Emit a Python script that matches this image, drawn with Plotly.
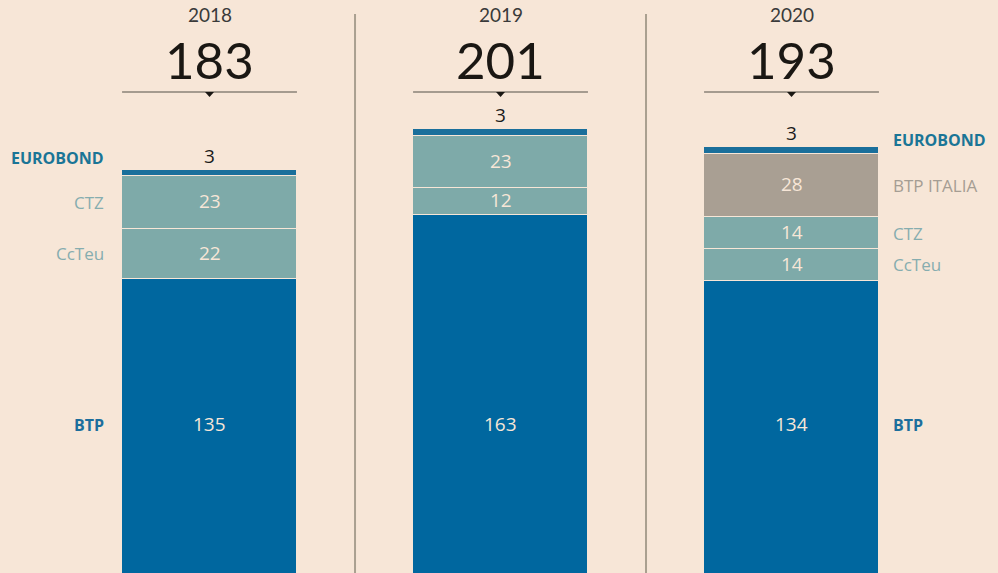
import plotly.graph_objects as go

years = ["2018", "2019", "2020"]
btp = [135, 163, 134]
ccteu = [22, 12, 14]
ctz = [23, 23, 14]
btp_italia = [0, 0, 28]
eurobond = [3, 3, 3]

series_names = ["BTP", "CcTeu", "CTZ", "BTP ITALIA", "EUROBOND"]
series_vals = [btp, ccteu, ctz, btp_italia, eurobond]
series_colors = ["#00679f", "#7eaaa9", "#7eaaa9", "#a99f93", "#1a6f9b"]

BG = "#f7e6d7"
W, H = 998, 573
X = [0, 1, 2]
BAR_W = 0.601
Y_RANGE = [5.29, 257.7]
BTP_LABEL_Y = 70.5

fig = go.Figure()
for name, vals, col in zip(series_names, series_vals, series_colors):
    fig.add_trace(go.Bar(
        x=X, y=vals, name=name, width=BAR_W,
        marker=dict(color=col, line=dict(color=BG, width=1.5)),
        hoverinfo="name+y", showlegend=False,
    ))

FONT = "Open Sans"
HEAD_FONT = "Lato"
ann = []
totals = [sum(v[i] for v in series_vals) for i in range(3)]
for i in range(3):
    base = 0
    for name, vals in zip(series_names, series_vals):
        v = vals[i]
        if v == 0:
            continue
        if name == "EUROBOND":
            ann.append(dict(x=X[i], y=base + v, text=str(v), showarrow=False,
                            yanchor="bottom", yshift=-1,
                            font=dict(family=FONT, size=19, color="#1a1a1a")))
        else:
            yy = BTP_LABEL_Y if name == "BTP" else base + v / 2
            ann.append(dict(x=X[i], y=yy, text=str(v), showarrow=False, yshift=1,
                            font=dict(family=FONT, size=19, color="#f7e6d7")))
        base += v
    # header
    ann.append(dict(x=X[i], y=1 - 15 / H, yref="paper", yanchor="middle", text=years[i],
                    showarrow=False,
                    font=dict(family=HEAD_FONT, size=19, color="#3a3a3a")))
    ann.append(dict(x=X[i], y=1 - 59 / H, yref="paper", yanchor="middle", text=str(totals[i]),
                    showarrow=False,
                    font=dict(family=HEAD_FONT, size=51, color="#1a1713")))

# category labels
label_colors = {"BTP": "#1c6e9c", "CcTeu": "#86adaf", "CTZ": "#86adaf",
                "BTP ITALIA": "#a59d93", "EUROBOND": "#1a7596"}
bold = {"BTP": True, "EUROBOND": True}
for col_idx, side in [(0, "left"), (2, "right")]:
    base = 0
    for name, vals in zip(series_names, series_vals):
        v = vals[col_idx]
        if v == 0:
            continue
        if name == "BTP":
            yy = BTP_LABEL_Y
        elif name == "EUROBOND":
            yy = base + v
        else:
            yy = base + v / 2
        is_bold = bold.get(name, False)
        txt = f"<b>{name}</b>" if is_bold else name
        fs = 16 if is_bold else 17
        if side == "left":
            ann.append(dict(x=X[col_idx] - 0.355, y=yy, text=txt, showarrow=False,
                            xanchor="right",
                            yshift=(12 if name == "EUROBOND" else 0),
                            font=dict(family=FONT, size=fs, color=label_colors[name])))
        else:
            ann.append(dict(x=X[col_idx] + 0.341, y=yy, text=txt, showarrow=False,
                            xanchor="left",
                            yshift=(7 if name == "EUROBOND" else 0),
                            font=dict(family=FONT, size=fs, color=label_colors[name])))
        base += v

shapes = []
for sx in [0.5, 1.5]:
    shapes.append(dict(type="line", x0=sx, x1=sx, xref="x", yref="paper",
                       y0=0, y1=1 - 14 / H, line=dict(color="#aaa090", width=2)))
for i in range(3):
    yl = 1 - 92 / H
    shapes.append(dict(type="line", xref="x", yref="paper",
                       x0=X[i] - BAR_W / 2, x1=X[i] + BAR_W / 2, y0=yl, y1=yl,
                       line=dict(color="#555049", width=1.2)))
    tw = 4.5 / 291
    th = 5 / H
    shapes.append(dict(type="path", xref="x", yref="paper",
                       path=f"M {X[i]-tw},{yl} L {X[i]+tw},{yl} L {X[i]},{yl-th} Z",
                       fillcolor="#1a1713", line=dict(width=0)))

fig.update_layout(
    width=W, height=H, barmode="stack", bargap=0,
    paper_bgcolor=BG, plot_bgcolor=BG,
    margin=dict(l=0, r=0, t=0, b=0),
    xaxis=dict(range=[-0.72, 2.7096], visible=False, fixedrange=True),
    yaxis=dict(range=Y_RANGE, visible=False, fixedrange=True),
    annotations=ann, shapes=shapes,
)
fig.write_html("out.html", config={"displayModeBar": False},
               post_script="document.body.style.margin='0';document.body.style.overflow='hidden';")
